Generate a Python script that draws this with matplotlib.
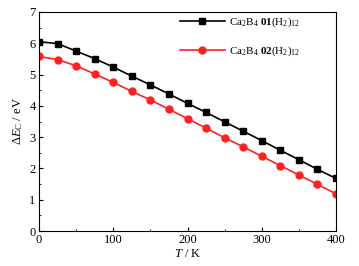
import numpy as np
import matplotlib.pyplot as plt
from matplotlib.ticker import MultipleLocator

plt.rcParams['font.family'] = ['Liberation Serif', 'DejaVu Serif']
plt.rcParams['mathtext.fontset'] = 'custom'
plt.rcParams['mathtext.rm'] = 'Liberation Serif'
plt.rcParams['mathtext.it'] = 'Liberation Serif:italic'
plt.rcParams['mathtext.bf'] = 'Liberation Serif:bold'

# temperaturas (K) y energias
T = np.arange(0, 401, 25)
dE_01 = [6.05, 5.99, 5.75, 5.51, 5.24, 4.95, 4.67, 4.38, 4.08,
         3.79, 3.49, 3.19, 2.89, 2.58, 2.28, 1.97, 1.68]
dE_02 = [5.58, 5.48, 5.28, 5.02, 4.75, 4.46, 4.19, 3.89, 3.59,
         3.29, 2.98, 2.69, 2.39, 2.09, 1.79, 1.49, 1.19]
lab_01 = r"Ca$_2$B$_4$ $\mathbf{01}$(H$_2$)$_{12}$"
lab_02 = r"Ca$_2$B$_4$ $\mathbf{02}$(H$_2$)$_{12}$"

fig = plt.figure(figsize=(3.59, 2.66), dpi=100)
ax = fig.add_axes([39/359, 1-231/266, 297/359, 219/266])

ax.plot(T, dE_01, color="#000000", marker='s', markersize=4.8, linewidth=1.2, label=lab_01)
ax.plot(T, dE_02, color="#ff2020", marker='o', markersize=5, linewidth=1.2, label=lab_02)

ax.set_xlim(0, 400)
ax.set_ylim(0, 7)
ax.xaxis.set_major_locator(MultipleLocator(100))
ax.xaxis.set_minor_locator(MultipleLocator(50))
ax.yaxis.set_major_locator(MultipleLocator(1))
ax.yaxis.set_minor_locator(MultipleLocator(0.5))
ax.tick_params(which='both', direction='in', labelsize=9, pad=2.5)
ax.tick_params(which='major', length=3)
ax.tick_params(which='minor', length=1.5)

ax.set_xlabel(r"$T$ / K", fontsize=9, labelpad=1)
ax.set_ylabel(r"$\Delta E_{\rm C}$ / eV", fontsize=9, labelpad=3)

ax.legend(loc='upper left', bbox_to_anchor=(0.475, 0.985), frameon=False, fontsize=8,
          handlelength=4.0, handletextpad=0.36, labelspacing=1.4,
          borderaxespad=0, borderpad=0)

plt.savefig("out.png", dpi=100)
